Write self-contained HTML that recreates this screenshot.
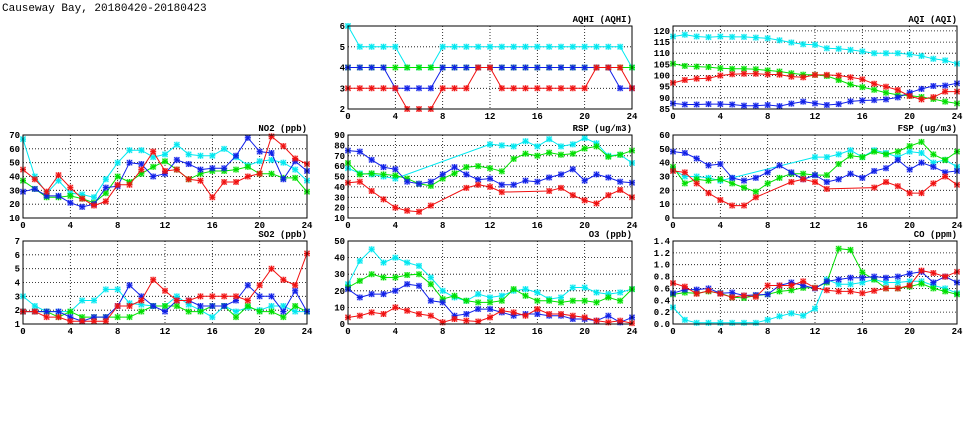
<!DOCTYPE html>
<html><head><meta charset="utf-8"><style>
html,body{margin:0;padding:0;background:#fff;}
svg{display:block}
text{font-family:"Liberation Mono","DejaVu Sans Mono",monospace;font-weight:bold;font-size:9px;fill:#000}
</style></head><body>
<svg id="s" width="975" height="447" xmlns="http://www.w3.org/2000/svg">
<text x="2" y="11" style="font-size:11px;font-weight:normal">Causeway Bay, 20180420-20180423</text>
</svg>
<script>
const N=null;
const C={c:"#00e8f0",g:"#00e000",b:"#1020e8",r:"#f01010"};
const P=[
{t:"AQHI (AQHI)",x:348,y:26,min:2,max:6,ticks:[2,3,4,5,6],dec:0,
 d:{c:[6,5,5,5,5,4,4,4,5,5,5,5,5,5,5,5,5,5,5,5,5,5,5,5,4],
    g:[4,4,4,4,4,4,4,4,4,4,4,4,4,4,4,4,4,4,4,4,4,4,4,4,4],
    b:[4,4,4,4,3,3,3,3,4,4,4,4,4,4,4,4,4,4,4,4,4,4,4,3,3],
    r:[3,3,3,3,3,2,2,2,3,3,3,4,4,3,3,3,3,3,3,3,3,4,4,4,3]}},
{t:"AQI (AQI)",x:673,y:26,min:85,max:122.2,ticks:[85,90,95,100,105,110,115,120],dec:0,
 d:{c:[117.5,118.3,117.5,117.2,117.5,117.3,117.3,117,116.7,115.8,114.8,114,113.8,112.2,112,111.5,110.8,110,110,110,109.5,108.8,107.5,106.8,105.3],
    g:[105.3,104.3,104,103.8,103.3,103,103,102.8,102.3,101.8,101,100.4,100.3,99.8,98,96,94.8,93.6,92.3,91.3,91,90.4,89.5,88.3,87.5],
    b:[87.5,87,87,87.2,87.2,87,86.5,86.5,86.8,86.3,87.4,88.3,87.5,86.8,87.2,88.4,88.8,89,89.3,90.2,92.3,94,95.3,95.5,96.5],
    r:[96.7,98,98.6,98.8,100,100.6,100.8,100.8,100.5,100.4,99.5,99.2,100.3,100.3,100,99.2,98.3,96.3,95,93.5,90.8,89.3,90.3,92.8,92.8]}},
{t:"NO2 (ppb)",x:23,y:135,min:10,max:70,ticks:[10,20,30,40,50,60,70],dec:0,
 d:{c:[67,40,28,37,28,27,25,38,50,59,59,54,56,63,56,55,55,60,54,48,51,52,50,45,37],
    g:[37,31,25,25,26,24,21,28,40,36,42,47,51,45,38,42,44,44,45,47,42,42,39,39,29],
    b:[29,31,26,26,21,18,20,32,33,50,49,40,42,52,49,45,46,46,55,68,58,57,38,51,44],
    r:[45,38,29,41,32,24,19,22,34,34,45,58,44,45,38,37,25,36,36,40,42,69,62,53,49]}},
{t:"RSP (ug/m3)",x:348,y:135,min:10,max:90,ticks:[10,20,30,40,50,60,70,80,90],dec:0,
 d:{c:[58,53,52,50,48,N,N,N,N,N,N,N,81,80,79,84,79,86,79,81,87,82,70,71,63],
    g:[63,52,53,52,51,48,43,41,48,53,59,60,58,55,67,72,70,73,71,72,77,79,69,71,75],
    b:[75,74,66,59,57,45,43,45,52,59,52,47,48,42,42,46,45,49,52,57,46,52,49,45,44],
    r:[44,45,36,28,20,17,16,22,N,N,39,42,40,35,N,N,N,36,39,32,27,24,32,37,30]}},
{t:"FSP (ug/m3)",x:673,y:135,min:0,max:60,ticks:[0,10,20,30,40,50,60],dec:0,
 d:{c:[35,30,30,29,27,29,N,N,N,N,N,N,44,44,46,49,44,49,47,44,48,47,40,42,37],
    g:[37,25,28,27,28,25,22,19,25,29,32,32,31,31,39,45,44,48,46,48,52,55,46,42,48],
    b:[48,47,43,38,39,29,27,29,33,38,33,28,31,26,28,32,29,34,36,42,35,40,37,33,34],
    r:[34,33,25,18,13,9,9,15,N,N,26,28,26,21,N,N,N,22,26,23,18,18,25,30,24]}},
{t:"SO2 (ppb)",x:23,y:241,min:1,max:7,ticks:[1,2,3,4,5,6,7],dec:0,
 d:{c:[3,2.3,1.9,1.9,1.9,2.7,2.7,3.5,3.5,2.5,2.4,2.3,2.3,3,2.4,2,1.5,2.3,1.9,2.2,2,2.3,2.3,1.9,1.9],
    g:[1.9,1.9,1.9,1.5,1.9,1.5,1.5,1.5,1.5,1.5,1.9,2.3,2.3,2.3,1.9,1.9,2.3,2.3,1.5,2.3,1.9,1.9,1.5,2.3,1.9],
    b:[1.9,1.9,1.9,1.9,1.5,1.2,1.5,1.5,2.3,3.8,3,2.3,1.9,2.7,2.7,2.3,2.3,2.3,2.7,3.8,3,3,1.9,3.4,1.9],
    r:[1.9,1.9,1.5,1.5,1.2,1.2,1.2,1.2,2.3,2.3,2.7,4.2,3.4,2.7,2.7,3,3,3,3,2.7,3.8,5,4.2,3.8,6.1]}},
{t:"O3 (ppb)",x:348,y:241,min:0,max:50,ticks:[0,10,20,30,40,50],dec:0,
 d:{c:[24,38,45,37,40,37,35,28,20,16,14,18,16,17,20,21,19,15,16,22,22,19,18,19,21],
    g:[22,26,30,28,28,29.5,30,24,15,17,14,13,13,14,21,17,14,14,13,14,14,13,16,14,21],
    b:[21,16,18,18,20,24,23,14,13,5,6,9,9,7,5,6,6,5,5,3,3,2,5,1,4],
    r:[4,5,7,6,10,8,6,5,1,3,2,1.5,4,8,7,5,9,6,6,5,4,2,1,2,0.5]}},
{t:"CO (ppm)",x:673,y:241,min:0,max:1.4,ticks:[0,0.2,0.4,0.6,0.8,1.0,1.2,1.4],dec:1,
 d:{c:[0.28,0.07,0.02,0.02,0.02,0.02,0.02,0.02,0.07,0.13,0.18,0.14,0.26,0.75,0.67,0.67,0.7,0.75,0.7,0.7,0.72,0.72,0.65,0.6,0.52],
    g:[0.5,0.53,0.52,0.55,0.52,0.45,0.44,0.48,0.5,0.55,0.57,0.61,0.61,0.7,1.27,1.25,0.87,0.75,0.6,0.6,0.63,0.68,0.6,0.55,0.5],
    b:[0.52,0.58,0.58,0.6,0.52,0.53,0.48,0.49,0.5,0.65,0.7,0.65,0.6,0.72,0.75,0.78,0.78,0.8,0.78,0.8,0.85,0.88,0.7,0.8,0.7],
    r:[0.69,0.63,0.51,0.56,0.51,0.45,0.48,0.46,0.65,0.65,0.65,0.72,0.61,0.57,0.55,0.55,0.52,0.56,0.6,0.6,0.65,0.9,0.86,0.8,0.88]}}
];
const W=284,H=83;let o="";
for(const p of P){
 const X=h=>p.x+h*W/24, Y=v=>p.y+H-(v-p.min)/(p.max-p.min)*H;
 for(const t of p.ticks){const y=Y(t).toFixed(1);
  if(t!=p.min&&Math.abs(Y(t)-p.y)>1)o+=`<line x1="${p.x}" x2="${p.x+W}" y1="${y}" y2="${y}" stroke="#000" stroke-width="0.8" stroke-dasharray="1,2"/>`;
  o+=`<text x="${p.x-3}" y="${(+y+3).toFixed(1)}" text-anchor="end">${t.toFixed(p.dec)}</text>`;}
 for(let h=0;h<=24;h+=4){const x=X(h);
  if(h>0&&h<24)o+=`<line x1="${x}" x2="${x}" y1="${p.y}" y2="${p.y+H}" stroke="#000" stroke-width="0.8" stroke-dasharray="1,2"/>`;
  o+=`<text x="${x}" y="${p.y+H+10}" text-anchor="middle">${h}</text>`;}
 o+=`<text x="${p.x+W}" y="${p.y-4}" text-anchor="end">${p.t}</text>`;
 for(const k of ["c","g","b","r"]){const a=p.d[k];let pts=[];
  a.forEach((v,i)=>{if(v!==null)pts.push(X(i).toFixed(1)+","+Y(v).toFixed(1));});
  o+=`<polyline points="${pts.join(" ")}" fill="none" stroke="${C[k]}" stroke-width="1"/>`;
  a.forEach((v,i)=>{if(v===null)return;const x=X(i),y=Y(v);
   o+=`<rect x="${x-3}" y="${y-3}" width="6" height="6" fill="${C[k]}" opacity="0.35"/>`;
   o+=`<path d="M${x-2.5} ${y-2.5}L${x+2.5} ${y+2.5}M${x-2.5} ${y+2.5}L${x+2.5} ${y-2.5}M${x} ${y-3}V${y+3}M${x-3} ${y}H${x+3}" stroke="${C[k]}" stroke-width="1"/>`;});
 }
 o+=`<rect x="${p.x}" y="${p.y}" width="${W}" height="${H}" fill="none" stroke="#000" stroke-width="1"/>`;
}
document.getElementById("s").insertAdjacentHTML("beforeend",o);
</script>
</body></html>
